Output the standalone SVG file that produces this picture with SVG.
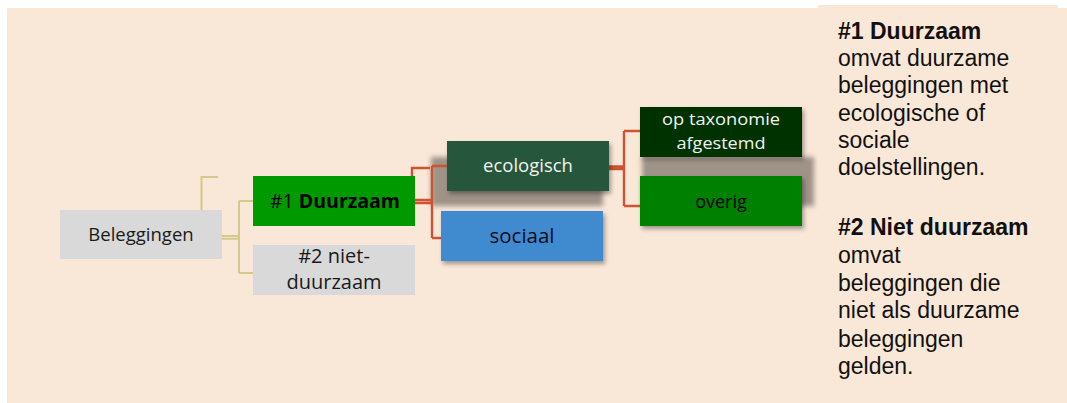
<svg xmlns="http://www.w3.org/2000/svg" width="1067" height="403" viewBox="0 0 1067 403">
<style>
.lbl{font-family:"Open Sans","Liberation Sans",sans-serif;font-size:18.5px;text-anchor:middle}
.side{font-family:"Liberation Sans",Arial,sans-serif;font-size:23px;fill:#111}
.kh{fill:none;stroke:#D5C98A;stroke-width:2}
.rd{fill:none;stroke:#CD5332;stroke-width:2.4}
</style>
<defs>
<filter id="sh" x="-20%" y="-20%" width="140%" height="150%">
<feDropShadow dx="2" dy="3" stdDeviation="2" flood-color="#000" flood-opacity="0.35"/>
</filter>
<filter id="ghost" x="-20%" y="-50%" width="140%" height="200%">
<feGaussianBlur stdDeviation="2.5"/>
</filter>
</defs>
<rect x="7" y="8" width="1060" height="395" fill="#F9E7D7"/>
<rect x="818" y="5" width="240" height="398" fill="#F9E7D7"/>
<g id="ghosts" filter="url(#ghost)">
<rect x="431" y="157" width="172" height="49" fill="#9F9388"/>
<rect x="642" y="157" width="172" height="49" fill="#9F9388"/>
</g>
<g id="connectors">
<path class="kh" d="M201.5,210 V177 H218"/>
<path class="kh" d="M222,236 H239 M222,238.7 H239"/>
<path class="kh" d="M239,201 V273 M239,201 H253 M239,273 H253"/>
<path class="rd" d="M412,176 V168 H430"/>
<path class="rd" d="M415,200 H432 M415,203 H432"/>
<path class="rd" d="M432,166 V238 M432,166 H447 M432,238 H441"/>
<path class="rd" d="M609,166.5 H624 M609,169 H624"/>
<path class="rd" d="M624,131 V206 M624,131 H640 M624,206 H640"/>
</g>
<g id="beleggingen">
<rect x="60" y="210" width="162" height="49" fill="#D9D9D9"/>
<text class="lbl" x="141" y="241" fill="#1a1a1a">Beleggingen</text>
</g>
<g id="duurzaam">
<rect x="253" y="176" width="162" height="50" fill="#009900"/>
<text class="lbl" x="335" y="207.5" fill="#000" style="font-size:19.5px">#1 <tspan font-weight="bold">Duurzaam</tspan></text>
</g>
<g id="nietduurzaam">
<rect x="253" y="245" width="162" height="50" fill="#D9D9D9"/>
<text class="lbl" fill="#1a1a1a" style="font-size:20px"><tspan x="334" y="263.3">#2 niet-</tspan><tspan x="334" y="289">duurzaam</tspan></text>
</g>
<g id="ecologisch">
<rect x="447" y="141" width="162" height="50" fill="#25573A" filter="url(#sh)"/>
<text class="lbl" x="528" y="171.5" fill="#F2F2F2">ecologisch</text>
</g>
<g id="sociaal">
<rect x="441" y="211" width="162" height="50" fill="#3F8BD0" filter="url(#sh)"/>
<text class="lbl" x="522" y="242.5" fill="#0a0a1a" style="font-size:20.5px">sociaal</text>
</g>
<g id="taxonomie">
<rect x="640" y="107" width="162" height="50" fill="#003300" filter="url(#sh)"/>
<text class="lbl" x="721" y="125" fill="#F2F2F2" style="font-size:17px" textLength="118" lengthAdjust="spacingAndGlyphs">op taxonomie</text>
<text class="lbl" x="721" y="148.5" fill="#F2F2F2" style="font-size:17px" textLength="89" lengthAdjust="spacingAndGlyphs">afgestemd</text>
</g>
<g id="overig">
<rect x="640" y="176" width="162" height="50" fill="#008000" filter="url(#sh)"/>
<text class="lbl" x="721" y="208.3" fill="#000" style="font-size:18px">overig</text>
</g>
<g id="legend">
<text class="side" x="838" y="38.5" font-weight="bold">#1 Duurzaam</text>
<text class="side" x="838" y="66">omvat duurzame</text>
<text class="side" x="838" y="93">beleggingen met</text>
<text class="side" x="838" y="121">ecologische of</text>
<text class="side" x="838" y="148">sociale</text>
<text class="side" x="838" y="175">doelstellingen.</text>
<text class="side" x="838" y="235" font-weight="bold">#2 Niet duurzaam</text>
<text class="side" x="838" y="263">omvat</text>
<text class="side" x="838" y="290.7">beleggingen die</text>
<text class="side" x="838" y="318.3">niet als duurzame</text>
<text class="side" x="838" y="346.5">beleggingen</text>
<text class="side" x="838" y="374">gelden.</text>
</g>
</svg>
